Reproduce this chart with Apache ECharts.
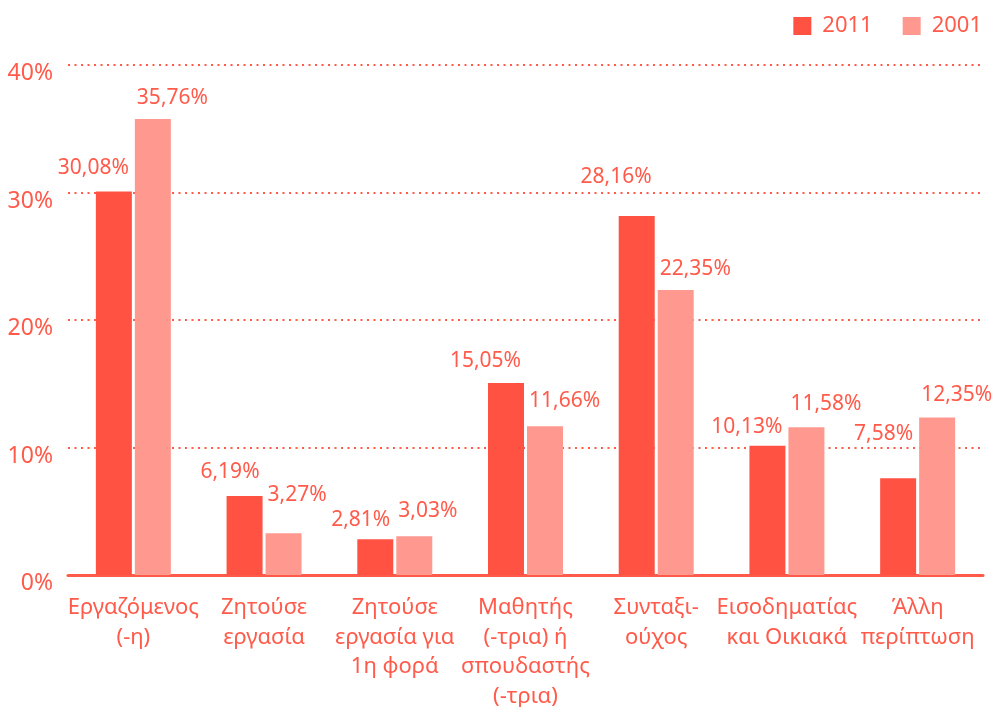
<!DOCTYPE html>
<html>
<head>
<meta charset="utf-8">
<title>Employment status 2011 vs 2001</title>
<script src="https://cdn.jsdelivr.net/npm/echarts@6/dist/echarts.min.js"></script>
<style>
  html, body { margin: 0; padding: 0; background: #fff; }
  #chart { width: 996px; height: 707px; }
</style>
</head>
<body>
<div id="chart"></div>
<script>
/**
 * data
 */
var categories = [
    'Εργαζόμενος\n(-η)',
    'Ζητούσε\nεργασία',
    'Ζητούσε\nεργασία για\n1η φορά',
    'Μαθητής\n(-τρια) ή\nσπουδαστής\n(-τρια)',
    'Συνταξι-\nούχος',
    'Εισοδηματίας\nκαι Οικιακά',
    'Άλλη\nπερίπτωση'
];
var seriesNames = ['2011', '2001'];
var values2011 = [30.08, 6.19, 2.81, 15.05, 28.16, 10.13, 7.58];
var values2001 = [35.76, 3.27, 3.03, 11.66, 22.35, 11.58, 12.35];
var yTicks = [0, 10, 20, 30, 40];

// styling
var textColor = '#ff5a4a';
var color2011 = '#ff5243';
var color2001 = '#ff998f';
var fontName = 'Noto Sans';

// extra lift of each value label above its bar (px), as in the picture
var lift2011 = [18, 19, 14, 17, 34, 14, 39];
var lift2001 = [16, 33, 20, 20, 16, 18, 18];

function fmt(v) {
    return v.toFixed(2).replace('.', ',') + '%';
}

function buildData(values, lifts, dx) {
    var out = [];
    for (var i = 0; i < values.length; i++) {
        out.push({
            value: values[i],
            label: { offset: [dx, -(lifts[i] + 5)] }
        });
    }
    return out;
}

var chart = echarts.init(document.getElementById('chart'));

var option = {
    animation: false,
    textStyle: { fontFamily: fontName },
    legend: {
        data: seriesNames,
        right: 9,
        top: 10,
        icon: 'rect',
        itemWidth: 18,
        itemHeight: 18,
        itemGap: 30,
        textStyle: {
            color: textColor,
            fontSize: 22,
            fontFamily: fontName,
            padding: [0, 0, 0, 6]
        }
    },
    grid: {
        left: 68,
        right: 13,
        top: 65,
        bottom: 132,
        containLabel: false,
        outerBoundsMode: 'none'
    },
    xAxis: {
        type: 'category',
        data: categories,
        axisTick: { show: false },
        axisLine: { lineStyle: { color: textColor, width: 3 } },
        axisLabel: {
            interval: 0,
            color: textColor,
            fontSize: 22,
            lineHeight: 29.5,
            margin: 18,
            fontFamily: fontName
        }
    },
    yAxis: {
        type: 'value',
        min: yTicks[0],
        max: yTicks[yTicks.length - 1],
        interval: 10,
        axisLine: { show: false },
        axisTick: { show: false },
        splitLine: {
            lineStyle: { color: textColor, width: 2, type: [2, 4.5] }
        },
        axisLabel: {
            color: textColor,
            fontSize: 23,
            margin: 15,
            verticalAlign: 'top',
            lineHeight: 17,
            fontFamily: fontName,
            formatter: '{value}%'
        }
    },
    series: [
        {
            name: seriesNames[0],
            type: 'bar',
            barWidth: 36,
            barGap: '8.3%',
            itemStyle: { color: color2011 },
            label: {
                show: true,
                position: ['100%', 0],
                align: 'right',
                verticalAlign: 'middle',
                color: textColor,
                fontSize: 21,
                fontFamily: fontName,
                formatter: function (p) { return fmt(p.value); }
            },
            data: buildData(values2011, lift2011, -3)
        },
        {
            name: seriesNames[1],
            type: 'bar',
            barWidth: 36,
            itemStyle: { color: color2001 },
            label: {
                show: true,
                position: [0, 0],
                align: 'left',
                verticalAlign: 'middle',
                color: textColor,
                fontSize: 21,
                fontFamily: fontName,
                formatter: function (p) { return fmt(p.value); }
            },
            data: buildData(values2001, lift2001, 2)
        }
    ]
};
chart.setOption(option);
</script>
</body>
</html>
